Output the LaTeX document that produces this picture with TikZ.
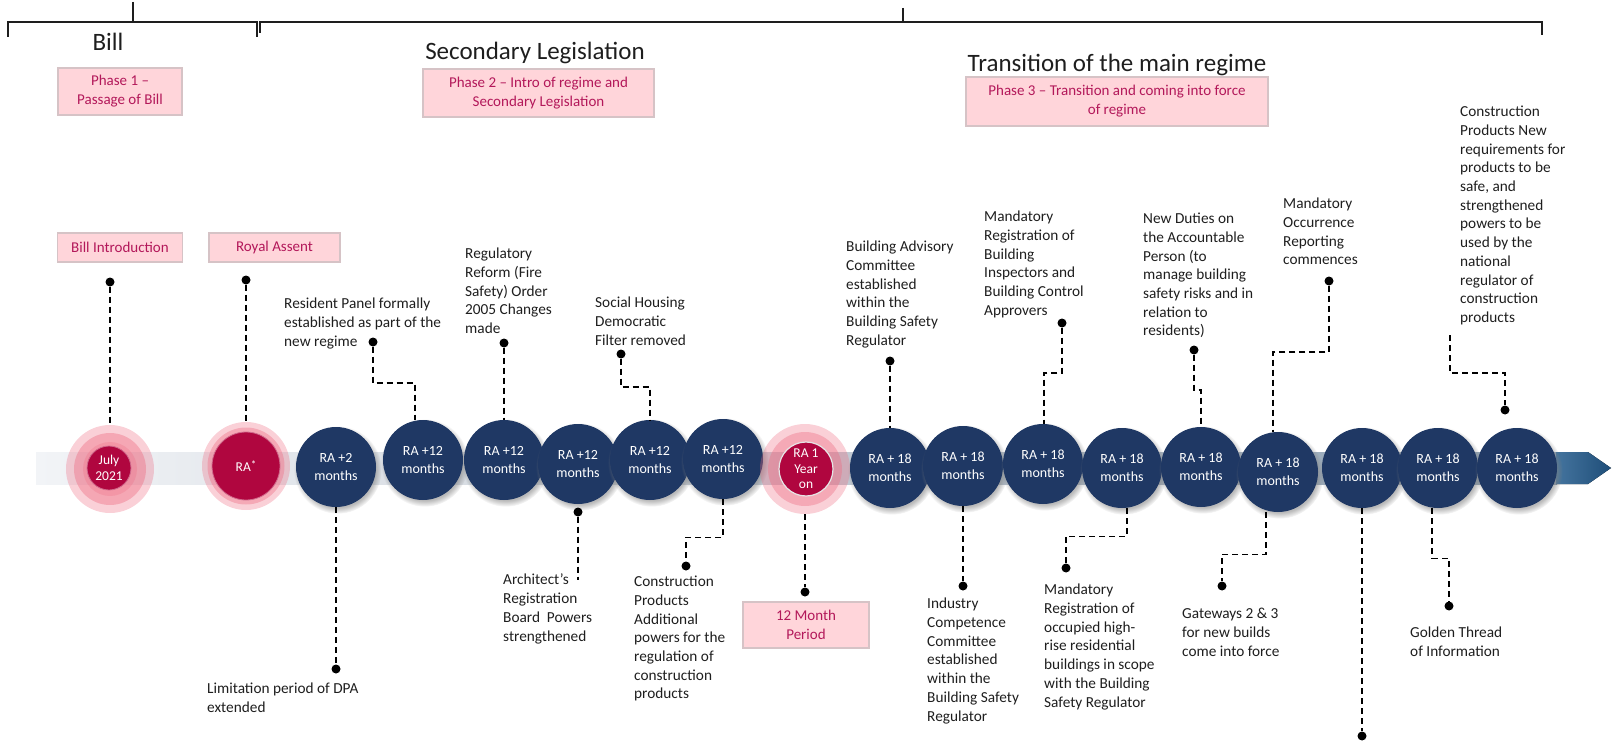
\documentclass[tikz,border=0pt]{standalone}
\usepackage{fontspec}
\setmainfont{Carlito}
\usetikzlibrary{shadows}
\definecolor{navy}{HTML}{1F3864}
\definecolor{crim}{HTML}{B0063F}
\definecolor{glowc}{HTML}{EE6E84}
\definecolor{pinkfill}{HTML}{FFD5DA}
\definecolor{pinkline}{HTML}{D6C3C6}
\definecolor{pinktext}{HTML}{B3185A}
\definecolor{ink}{HTML}{1E1E1E}
\definecolor{bandA}{HTML}{F2F4F7}
\definecolor{bandB}{HTML}{C3CBD4}
\definecolor{bandC}{HTML}{8CA0B3}
\definecolor{arrowL}{HTML}{44749E}
\definecolor{arrowR}{HTML}{1F4E79}
\begin{document}
\begin{tikzpicture}[x=1pt,y=-1pt,
  leader/.style={draw=black, line width=1.3pt, dash pattern=on 6pt off 4pt},
  dot/.style={circle, fill=black, inner sep=0pt, minimum size=9pt},
  lbl/.style={anchor=north west, inner sep=0pt, align=left, text=ink, font=\fontsize{15.3}{18.7}\selectfont},
  pbox/.style={draw=pinkline, fill=pinkfill, line width=1.2pt, text=pinktext, align=center, inner sep=0pt, font=\fontsize{15}{19}\selectfont},
  head/.style={text=ink, inner sep=0pt, font=\fontsize{25}{30}\selectfont},
  glow/.style={circle, inner sep=0pt, fill=glowc},
  crimc/.style={circle, fill=crim, draw=crim!60!white, line width=0.8pt, inner sep=0pt, text=white, align=center, font=\fontsize{13.5}{15.5}\selectfont},
  bluec/.style={circle, fill=navy, minimum size=80pt, inner sep=0pt, text=white, align=center, font=\fontsize{14}{17.5}\selectfont, circular drop shadow={shadow scale=1.1, shadow xshift=1.5pt, shadow yshift=-2.5pt, opacity=0.55}},
  brk/.style={draw=ink, line width=1.4pt}
]
\useasboundingbox (0,0) rectangle (1612,741);

% top brackets
\draw[brk] (8,37) -- (8,22) -- (257,22) -- (257,37);
\draw[brk] (133,2) -- (133,22);
\draw[brk] (260,33) -- (260,22) -- (1542,22) -- (1542,35);
\draw[brk] (903,8) -- (903,22);

% headings
\node[head] (hBill) at (108,42) {Bill};
\node[head] (hSec) at (535,53) {Secondary Legislation};
\node[head] (hTr) at (1117,65) {Transition of the main regime};

% phase boxes
\node[pbox, minimum width=124pt, minimum height=47pt] (p1) at (120,91.5) {Phase 1 \textendash\\Passage of Bill};
\node[pbox, minimum width=231pt, minimum height=48pt] (p2) at (538.5,93) {Phase 2 \textendash{} Intro of regime and\\Secondary Legislation};
\node[pbox, minimum width=302pt, minimum height=49pt] (p3) at (1117,101.5) {Phase 3 \textendash{} Transition and coming into force\\of regime};
\node[pbox, minimum width=125pt, minimum height=29pt] (bi) at (120,247.5) {Bill Introduction};
\node[pbox, minimum width=131pt, minimum height=29pt] (ra) at (274.5,247.5) {Royal Assent};
\node[pbox, minimum width=126pt, minimum height=46pt] (tm) at (806,625) {12 Month\\Period};

% timeline band and arrow
\fill[left color=bandA, right color=bandB] (36,452) rectangle (800,484);
\fill[left color=bandB, right color=bandC] (800,452) rectangle (1557,484);
\fill[left color=arrowL, right color=arrowR] (1556,452) -- (1588,452) -- (1611,468) -- (1588,484) -- (1556,484) -- cycle;

% milestones
\node[glow, minimum size=88pt, opacity=0.32] (g1) at (110,469) {};
\node[glow, minimum size=72pt, opacity=0.42] at (110,469) {};
\node[glow, minimum size=54pt, opacity=0.3] at (110,469) {};
\node[crimc, minimum size=44pt] (c1) at (109,468) {July\\2021};

\node[glow, minimum size=88pt, opacity=0.32] (g2) at (246,466) {};
\node[glow, minimum size=77pt, opacity=0.4] at (246,466) {};
\node[crimc, minimum size=68pt] (c2) at (246,466) {RA\raisebox{3.5pt}{\fontsize{11}{11}\selectfont *}};

\node[bluec] (c3) at (336,467) {RA +2\\months};
\node[bluec] (c4) at (423,460) {RA +12\\months};
\node[bluec] (c5) at (504,460) {RA +12\\months};
\node[bluec] (c6) at (578,464) {RA +12\\months};
\node[bluec] (c7) at (650,460) {RA +12\\months};
\node[bluec] (c8) at (723,459) {RA +12\\months};

\node[glow, minimum size=90pt, opacity=0.32] (g9) at (805,469) {};
\node[glow, minimum size=74pt, opacity=0.4] at (805,469) {};
\node[crimc, minimum size=54pt, draw=white!80!gray, line width=1.2pt] (c9) at (806,469) {RA 1\\Year\\on};

\node[bluec] (c10) at (890,468) {RA + 18\\months};
\node[bluec] (c11) at (963,466) {RA + 18\\months};
\node[bluec] (c12) at (1043,464) {RA + 18\\months};
\node[bluec] (c13) at (1122,468) {RA + 18\\months};
\node[bluec] (c14) at (1201,467) {RA + 18\\months};
\node[bluec] (c15) at (1278,472) {RA + 18\\months};
\node[bluec] (c16) at (1362,468) {RA + 18\\months};
\node[bluec] (c17) at (1438,468) {RA + 18\\months};
\node[bluec] (c18) at (1517,468) {RA + 18\\months};

% dots
\node[dot] (dBI) at (110,282) {};
\node[dot] (dRA) at (246,280) {};
\node[dot] (dRP) at (373,342) {};
\node[dot] (dRR) at (504,343) {};
\node[dot] (dSH) at (621,354) {};
\node[dot] (dBA) at (890,361) {};
\node[dot] (dMR) at (1062,323) {};
\node[dot] (dND) at (1194,350) {};
\node[dot] (dMO) at (1329,281) {};
\node[dot] (dCN) at (1505,410) {};
\coordinate (tCN) at (1450,335);

\node[dot] (dLP) at (336,669) {};
\node[dot] (dAR) at (578,512) {};
\coordinate (eAR) at (578,580);
\node[dot] (dCP) at (686,566) {};
\node[dot] (dTM) at (805,592) {};
\node[dot] (dIC) at (963,586) {};
\node[dot] (dMB) at (1066,568) {};
\node[dot] (dGW) at (1222,586) {};
\node[dot] (dUN) at (1362,736) {};
\node[dot] (dGT) at (1449,606) {};

% connectors
\draw[leader] (dBI) -- (g1.north);
\draw[leader] (dRA) -- (g2.north);
\draw[leader] (dRP) -- ++(0,41) -| ([xshift=-8pt]c4.north);
\draw[leader] (dRR) -- (c5.north);
\draw[leader] (dSH) -- ++(0,33) -| (c7.north);
\draw[leader] (dBA) -- (c10.north);
\draw[leader] (dMR) -- ++(0,50) -| ([xshift=1pt]c12.north);
\draw[leader] (dND) -- ++(0,40) -| (c14.north);
\draw[leader] (dMO) -- ++(0,71) -| ([xshift=-5pt]c15.north);
\draw[leader] (tCN) -- ++(0,38) -| (dCN);

\draw[leader] (c3.south) -- (dLP);
\draw[leader] (dAR) -- (eAR);
\draw[leader] (c8.south) -- ++(0,38) -| (dCP);
\draw[leader] (g9.south) -- (dTM);
\draw[leader] (c11.south) -- (dIC);
\draw[leader] ([xshift=5pt]c13.south) -- ++(0,28) -| (dMB);
\draw[leader] ([xshift=-12pt]c15.south) -- ++(0,42) -| (dGW);
\draw[leader] (c16.south) -- (dUN);
\draw[leader] ([xshift=-6pt]c17.south) -- ++(0,50) -| (dGT);

% labels (top)
\node[lbl] (lRP) at (284,298) {Resident Panel formally\\established as part of the\\new regime};
\node[lbl] (lRR) at (465,248) {Regulatory\\Reform (Fire\\Safety) Order\\2005 Changes\\made};
\node[lbl] (lSH) at (595,297) {Social Housing\\Democratic\\Filter removed};
\node[lbl] (lBA) at (846,241) {Building Advisory\\Committee\\established\\within the\\Building Safety\\Regulator};
\node[lbl] (lMR) at (984,211) {Mandatory\\Registration of\\Building\\Inspectors and\\Building Control\\Approvers};
\node[lbl] (lND) at (1143,213) {New Duties on\\the Accountable\\Person (to\\manage building\\safety risks and in\\relation to\\residents)};
\node[lbl] (lMO) at (1283,198) {Mandatory\\Occurrence\\Reporting\\commences};
\node[lbl] (lCN) at (1460,106) {Construction\\Products New\\requirements for\\products to be\\safe, and\\strengthened\\powers to be\\used by the\\national\\regulator of\\construction\\products};

% labels (bottom)
\node[lbl] (lLP) at (207,683) {Limitation period of DPA\\extended};
\node[lbl] (lAR) at (503,574) {Architect’s\\Registration\\Board~ Powers\\strengthened};
\node[lbl] (lCP) at (634,576) {Construction\\Products\\Additional\\powers for the\\regulation of\\construction\\products};
\node[lbl] (lIC) at (927,598) {Industry\\Competence\\Committee\\established\\within the\\Building Safety\\Regulator};
\node[lbl] (lMB) at (1044,584) {Mandatory\\Registration of\\occupied high-\\rise residential\\buildings in scope\\with the Building\\Safety Regulator};
\node[lbl] (lGW) at (1182,608) {Gateways 2 \& 3\\for new builds\\come into force};
\node[lbl] (lGT) at (1410,627) {Golden Thread\\of Information};
\end{tikzpicture}
\end{document}
